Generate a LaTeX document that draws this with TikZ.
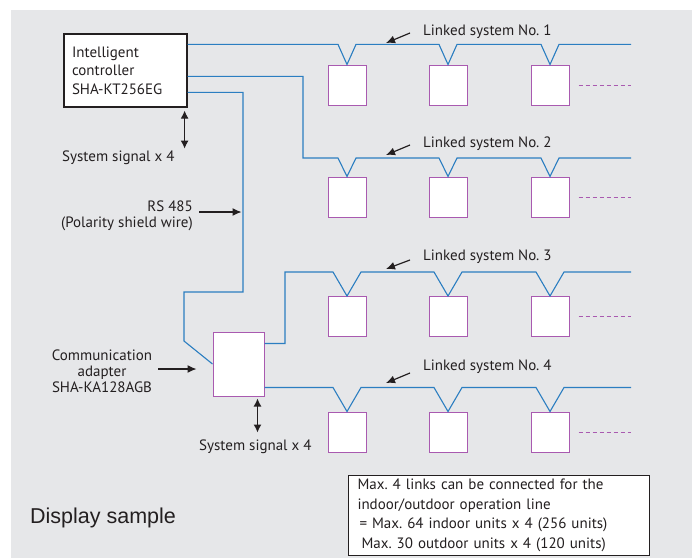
\documentclass[tikz,border=0pt]{standalone}
\usepackage{fontspec}
\setmainfont{PT Sans}
\newfontfamily\dispfont{Liberation Sans}
\usepackage{tikz}
\usetikzlibrary{arrows.meta, positioning}
\frenchspacing

\definecolor{panelgray}{HTML}{E6E7E9}
\definecolor{wireblue}{HTML}{2B7EC1}
\definecolor{unitpurple}{HTML}{A95AB0}
\definecolor{inkgray}{HTML}{231F20}

\begin{document}
\begin{tikzpicture}[
        x=1pt, y=-1pt,
        ctrlbox/.style={rectangle, draw=inkgray, line width=1.2pt, fill=white, text width=107pt, inner xsep=8pt, inner ysep=0pt, minimum height=73pt, align=left, text=inkgray, font=\fontsize{15}{18.5}\selectfont},
        unit/.style={rectangle, draw=unitpurple, line width=1pt, fill=white, minimum width=38pt, minimum height=40pt, inner sep=0pt},
        wire/.style={draw=wireblue, line width=1.1pt},
        more/.style={draw=unitpurple, line width=0.9pt, dash pattern=on 4pt off 3pt},
        lbl/.style={inner sep=0pt, text=inkgray, font=\fontsize{15}{16}\selectfont},
        note/.style={rectangle, draw=inkgray, line width=1pt, fill=white, text width=283pt, inner xsep=9pt, inner ysep=0pt, minimum height=80pt, align=left, text=inkgray, font=\fontsize{15}{19.5}\selectfont},
        pointer/.style={-{Latex[length=9pt, width=8pt]}, line width=1.2pt, draw=inkgray},
        sigarrow/.style={{Latex[length=8pt, width=8pt]}-{Latex[length=8pt, width=8pt]}, line width=1.2pt, draw=inkgray}
    ]
        \useasboundingbox (0,0) rectangle (695,558);
        \fill[panelgray] (11,10) rectangle (692,558);

        % Controller & adapter
        \node[ctrlbox] (ctrl) at (125.5,70.5) {Intelligent\\controller\\SHA-KT256EG};
        \node[unit, minimum width=51pt, minimum height=64pt] (adpt) at (238.5,364) {};

        % Indoor units
        \node[unit] (u11) at (347,85) {};
        \node[unit] (u12) at (448,85) {};
        \node[unit] (u13) at (550,85) {};
        \node[unit] (u21) at (347,197) {};
        \node[unit] (u22) at (448,197) {};
        \node[unit] (u23) at (550,197) {};
        \node[unit] (u31) at (347,316.5) {};
        \node[unit] (u32) at (448,316.5) {};
        \node[unit] (u33) at (550,316.5) {};
        \node[unit] (u41) at (347,432) {};
        \node[unit] (u42) at (448,432) {};
        \node[unit] (u43) at (550,432) {};

        \coordinate (lineend) at (631,0);
        \coordinate (l1) at ([yshift=-11pt]ctrl.north east);
        \coordinate (l2) at (303,158);
        \coordinate (l3) at (285,272);
        \coordinate (l4) at ([yshift=9pt]adpt.south east);
        \coordinate (rs1) at (243,292);
        \coordinate (rs2) at (184,341);

        % Linked systems
        \draw[wire] (l1) -- ([xshift=-9pt]l1 -| u11.north) -- (u11.north) -- ([xshift=9pt]l1 -| u11.north)
            -- ([xshift=-9pt]l1 -| u12.north) -- (u12.north) -- ([xshift=9pt]l1 -| u12.north)
            -- ([xshift=-9pt]l1 -| u13.north) -- (u13.north) -- ([xshift=9pt]l1 -| u13.north) -- (l1 -| lineend);
        \draw[wire] ([yshift=-43pt]ctrl.north east) -| (l2) -- ([xshift=-9pt]l2 -| u21.north) -- (u21.north) -- ([xshift=9pt]l2 -| u21.north)
            -- ([xshift=-9pt]l2 -| u22.north) -- (u22.north) -- ([xshift=9pt]l2 -| u22.north)
            -- ([xshift=-9pt]l2 -| u23.north) -- (u23.north) -- ([xshift=9pt]l2 -| u23.north) -- (l2 -| lineend);
        \draw[wire] ([yshift=-12pt]adpt.north east) -| (l3) -- ([xshift=-14pt]l3 -| u31.north) -- (u31.north) -- ([xshift=14pt]l3 -| u31.north)
            -- ([xshift=-14pt]l3 -| u32.north) -- (u32.north) -- ([xshift=14pt]l3 -| u32.north)
            -- ([xshift=-14pt]l3 -| u33.north) -- (u33.north) -- ([xshift=14pt]l3 -| u33.north) -- (l3 -| lineend);
        \draw[wire] (l4) -- ([xshift=-14pt]l4 -| u41.north) -- (u41.north) -- ([xshift=14pt]l4 -| u41.north)
            -- ([xshift=-14pt]l4 -| u42.north) -- (u42.north) -- ([xshift=14pt]l4 -| u42.north)
            -- ([xshift=-14pt]l4 -| u43.north) -- (u43.north) -- ([xshift=14pt]l4 -| u43.north) -- (l4 -| lineend);

        % RS 485 line
        \draw[wire] ([yshift=-59pt]ctrl.north east) -| (rs1) -| (rs2) -- (adpt.west);

        % More units
        \draw[more] ([xshift=9pt]u13.east) -- (u13.east -| lineend);
        \draw[more] ([xshift=9pt]u23.east) -- (u23.east -| lineend);
        \draw[more] ([xshift=9pt]u33.east) -- (u33.east -| lineend);
        \draw[more] ([xshift=9pt]u43.east) -- (u43.east -| lineend);

        % Labels
        \node[lbl, anchor=west] (ls1) at (423,32) {Linked system No. 1};
        \node[lbl, anchor=west] (ls2) at (423,144) {Linked system No. 2};
        \node[lbl, anchor=west] (ls3) at (423,257) {Linked system No. 3};
        \node[lbl, anchor=west] (ls4) at (423,367) {Linked system No. 4};
        \draw[pointer] ([xshift=-13pt,yshift=-1pt]ls1.west) -- ([xshift=-37pt,yshift=-11pt]ls1.west);
        \draw[pointer] ([xshift=-13pt,yshift=-1pt]ls2.west) -- ([xshift=-37pt,yshift=-11pt]ls2.west);
        \draw[pointer] ([xshift=-13pt,yshift=-3pt]ls3.west) -- ([xshift=-37pt,yshift=-12pt]ls3.west);
        \draw[pointer] ([xshift=-13pt,yshift=-6pt]ls4.west) -- ([xshift=-37pt,yshift=-16pt]ls4.west);

        \node[lbl, anchor=west] (sig1) at (62,158) {System signal x 4};
        \draw[sigarrow] ([xshift=-3pt,yshift=-3pt]ctrl.south east) -- ([xshift=-3pt,yshift=-41pt]ctrl.south east);

        \node[lbl, anchor=east, align=right] (rs485) at (193,216) {RS 485\\(Polarity shield wire)};
        \draw[pointer] ([xshift=6pt,yshift=4pt]rs485.east) -- ([xshift=-1.5pt,yshift=4pt]rs485.east -| rs1);

        \node[lbl, align=center] (comm) at (102,371) {Communication\\adapter\\SHA-KA128AGB};
        \draw[pointer] ([xshift=6pt,yshift=2pt]comm.east) -- ([xshift=-16pt,yshift=2pt]comm.east -| adpt.west);

        \node[lbl, anchor=west] (sig2) at (199,447) {System signal x 4};
        \draw[sigarrow] ([xshift=-7pt,yshift=-2pt]adpt.south east) -- ([xshift=-7pt,yshift=-36pt]adpt.south east);

        % Note & caption
        \node[note, anchor=north west] (notebox) at (348,475) {Max. 4 links can be connected for the\\indoor/outdoor operation line\\\hspace*{2pt}= Max. 64 indoor units x 4 (256 units)\\\hspace*{4pt}Max. 30 outdoor units x 4 (120 units)};
        \node[anchor=west, inner sep=0pt, text=inkgray, font=\dispfont\fontsize{21.5}{24}\selectfont] (disp) at (30,518) {Display sample};
    \end{tikzpicture}
\end{document}
